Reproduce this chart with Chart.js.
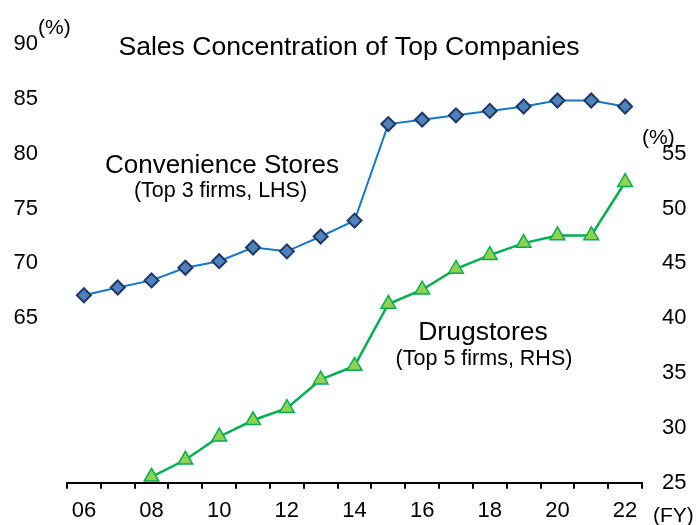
<!DOCTYPE html>
<html><head><meta charset="utf-8">
<script src="https://cdn.jsdelivr.net/npm/chart.js@4/dist/chart.umd.min.js"></script>
<style>html,body{margin:0;padding:0;background:#fff}canvas{display:block}</style>
</head><body>
<canvas id="c" width="697" height="525"></canvas>
<script>
const years = ['06','07','08','09','10','11','12','13','14','15','16','17','18','19','20','21','22'];
const convenienceTop3 = [67.1,67.8,68.45,69.6,70.2,71.45,71.1,72.45,73.9,82.7,83.1,83.5,83.9,84.3,84.85,84.85,84.3];
const drugstoreTop5 = [null,null,25.55,27.1,29.2,30.7,31.8,34.4,35.65,41.3,42.6,44.5,45.75,46.85,47.55,47.55,52.4];
const leftTicks = [65,70,75,80,85,90];
const rightTicks = [25,30,35,40,45,50,55];

const FONT = '"Liberation Sans", Arial, sans-serif';

const textPlugin = {
  id: 'texts',
  afterDraw(chart) {
    const ctx = chart.ctx;
    const ca = chart.chartArea;
    ctx.save();
    ctx.fillStyle = '#000';
    ctx.textBaseline = 'alphabetic';
    function t(s, x, y, size, align) {
      ctx.font = size + 'px ' + FONT;
      ctx.textAlign = align;
      ctx.fillText(s, x, y);
    }
    t('Sales Concentration of Top Companies', 349, 55, 26.6, 'center');
    t('Convenience Stores', 222, 173, 26, 'center');
    t('(Top 3 firms, LHS)', 220.5, 197, 21.5, 'center');
    t('Drugstores', 483, 340, 26.5, 'center');
    t('(Top 5 firms, RHS)', 484, 365, 21.5, 'center');
    t('(%)', ca.left - 29, 34, 21, 'left');
    t('(%)', ca.right, 144, 21, 'left');
    t('(FY)', ca.right + 11, 522, 21, 'left');
    ctx.restore();
  }
};

new Chart(document.getElementById('c'), {
  type: 'line',
  data: {
    labels: years,
    datasets: [
      {
        label: 'Convenience Stores (Top 3 firms, LHS)',
        data: convenienceTop3,
        yAxisID: 'y',
        borderColor: '#1477c9',
        borderWidth: 2,
        pointStyle: 'rectRot',
        pointRadius: 7,
        pointBackgroundColor: '#4f81bd',
        pointBorderColor: '#1f3864',
        pointBorderWidth: 2,
        tension: 0
      },
      {
        label: 'Drugstores (Top 5 firms, RHS)',
        data: drugstoreTop5,
        yAxisID: 'y1',
        borderColor: '#00b050',
        borderWidth: 2.5,
        pointStyle: 'triangle',
        pointRadius: 8.5,
        pointBackgroundColor: '#92d050',
        pointBorderColor: '#00b050',
        pointBorderWidth: 1.5,
        tension: 0,
        spanGaps: false
      }
    ]
  },
  options: {
    responsive: false,
    animation: false,
    layout: { padding: { top: 44, left: 0, right: 0, bottom: 0 } },
    plugins: { legend: { display: false }, title: { display: false }, tooltip: { enabled: false } },
    scales: {
      x: {
        offset: true,
        grid: { display: true, offset: true, drawOnChartArea: false, drawTicks: true, tickLength: 6, color: '#000', lineWidth: 2 },
        border: { display: true, color: '#000', width: 2 },
        ticks: {
          autoSkip: false, maxRotation: 0, padding: 9, color: '#000',
          font: { family: FONT, size: 22 },
          callback: function(v, i) { return i % 2 === 0 ? years[i] : ''; }
        },
        afterFit: s => { s.height = 38; }
      },
      y: {
        position: 'left', min: 50, max: 90,
        grid: { display: false, drawTicks: false },
        border: { display: false },
        ticks: { stepSize: 5, padding: 29, color: '#000', font: { family: FONT, size: 22 } },
        afterBuildTicks: s => { s.ticks = leftTicks.map(v => ({ value: v })); },
        afterFit: s => { s.width = 67; }
      },
      y1: {
        position: 'right', min: 25, max: 65,
        grid: { display: false, drawTicks: false },
        border: { display: false },
        ticks: { stepSize: 5, padding: 20, color: '#000', font: { family: FONT, size: 22 } },
        afterBuildTicks: s => { s.ticks = rightTicks.map(v => ({ value: v })); },
        afterFit: s => { s.width = 55; }
      }
    }
  },
  plugins: [textPlugin]
});
</script>
</body></html>
